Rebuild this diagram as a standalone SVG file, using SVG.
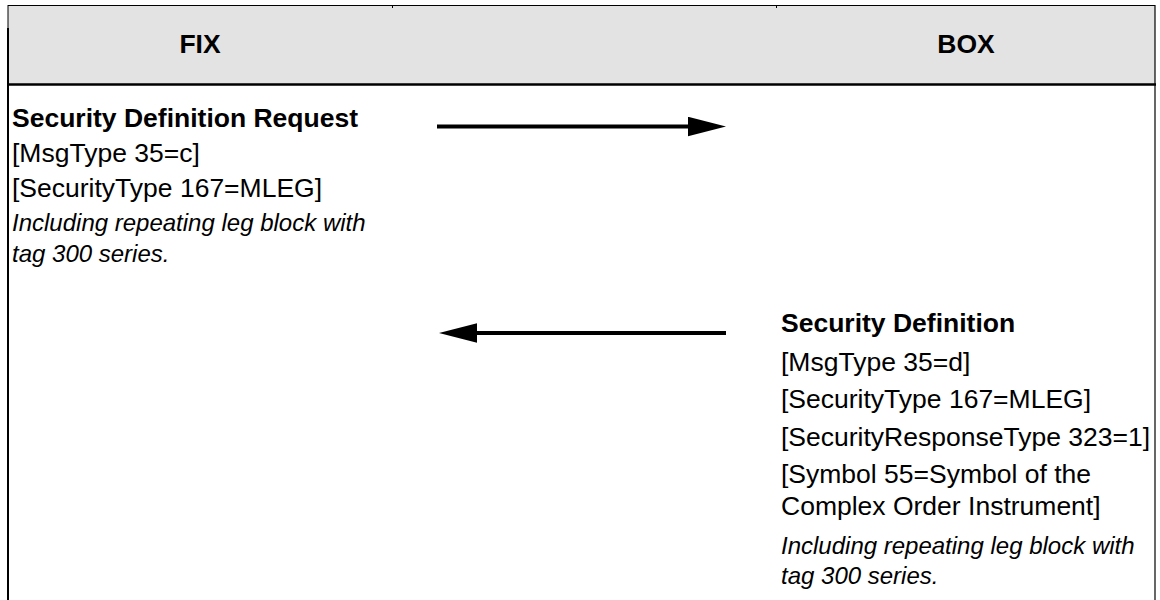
<svg xmlns="http://www.w3.org/2000/svg" width="1160" height="600" viewBox="0 0 1160 600">
  <style>
    .hdr { font-family: "Liberation Sans", Arial, sans-serif; font-size: 26.5px; font-weight: bold; fill: #000; text-anchor: middle; }
    .ttl { font-family: "Liberation Sans", Arial, sans-serif; font-size: 26.5px; font-weight: bold; fill: #000; }
    .fld { font-family: "Liberation Sans", Arial, sans-serif; font-size: 26.5px; fill: #000; }
    .note { font-family: "Liberation Sans", Arial, sans-serif; font-size: 24px; font-style: italic; fill: #000; }
    .conn { stroke: #000; stroke-width: 4; fill: none; marker-end: url(#head); }
  </style>
  <defs>
    <marker id="head" markerUnits="userSpaceOnUse" markerWidth="38" markerHeight="20" viewBox="0 0 37 19" refX="0" refY="9.5" orient="auto">
      <path d="M0,0 L37,9.5 L0,19 z" fill="#000"/>
    </marker>
  </defs>

  <g id="table">
    <rect x="8" y="5" width="1147" height="79" fill="#e3e3e3"/>
    <line x1="8" y1="5.5" x2="1155" y2="5.5" stroke="#000" stroke-width="1.2"/>
    <line x1="8" y1="5" x2="8" y2="28" stroke="#000" stroke-width="1"/>
    <line x1="8" y1="28" x2="8" y2="600" stroke="#000" stroke-width="2"/>
    <line x1="1155" y1="5" x2="1155" y2="600" stroke="#000" stroke-width="1.2"/>
    <line x1="7" y1="84.5" x2="1156" y2="84.5" stroke="#000" stroke-width="2.5"/>
    <line x1="392.5" y1="5" x2="392.5" y2="8" stroke="#000" stroke-width="1"/>
    <line x1="776.5" y1="5" x2="776.5" y2="8" stroke="#000" stroke-width="1"/>
  </g>

  <g id="header-fix">
    <text class="hdr" x="200" y="53">FIX</text>
  </g>
  <g id="header-box">
    <text class="hdr" x="966" y="53">BOX</text>
  </g>

  <g id="fix-request">
    <text class="ttl" x="12" y="127">Security Definition Request</text>
    <text class="fld" x="12" y="162">[MsgType 35=c]</text>
    <text class="fld" x="12" y="197">[SecurityType 167=MLEG]</text>
    <text class="note" x="12" y="231">Including repeating leg block with</text>
    <text class="note" x="12" y="262">tag 300 series.</text>
  </g>

  <g id="box-response">
    <text class="ttl" x="781" y="332">Security Definition</text>
    <text class="fld" x="781" y="371">[MsgType 35=d]</text>
    <text class="fld" x="781" y="408">[SecurityType 167=MLEG]</text>
    <text class="fld" x="781" y="446">[SecurityResponseType 323=1]</text>
    <text class="fld" x="781" y="483">[Symbol 55=Symbol of the</text>
    <text class="fld" x="781" y="515">Complex Order Instrument]</text>
    <text class="note" x="781" y="554">Including repeating leg block with</text>
    <text class="note" x="781" y="584">tag 300 series.</text>
  </g>

  <g id="connectors">
    <line class="conn" x1="437" y1="126.5" x2="688" y2="126.5"/>
    <line class="conn" x1="726" y1="333" x2="477" y2="333"/>
  </g>
</svg>
